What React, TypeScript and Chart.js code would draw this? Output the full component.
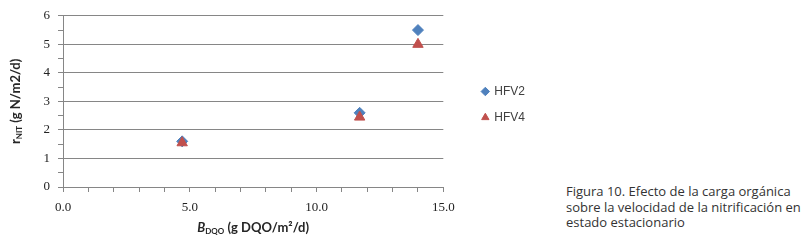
import React, { useEffect, useRef } from 'react';
import { Chart, registerables } from 'chart.js';

Chart.register(...registerables);

// ---- data ----
const seriesNames = ['HFV2', 'HFV4'];
const hfv2X = [4.7, 11.7, 14.0];
const hfv2Y = [1.6, 2.6, 5.5];
const hfv4X = [4.7, 11.7, 14.0];
const hfv4Y = [1.55, 2.45, 5.0];
const xLabelStep = 5;
const xMin = 0;
const xMax = 15;
const yMin = 0;
const yMax = 6;
const captionLines = [
  'Figura 10. Efecto de la carga orgánica',
  'sobre la velocidad de la nitrificación en',
  'estado estacionario',
];

const GRID = '#868686';
const TITLE_FONT = 'Lato';

type Part = { t: string; font: string; dy?: number };

function drawRich(ctx: CanvasRenderingContext2D, parts: Part[], cx: number, baseline: number) {
  let total = 0;
  for (const p of parts) {
    ctx.font = p.font;
    total += ctx.measureText(p.t).width;
  }
  let x = cx - total / 2;
  ctx.textBaseline = 'alphabetic';
  ctx.textAlign = 'left';
  for (const p of parts) {
    ctx.font = p.font;
    ctx.fillText(p.t, x, baseline + (p.dy || 0));
    x += ctx.measureText(p.t).width;
  }
}

const axisTitles = {
  id: 'axisTitles',
  afterDraw(chart: any) {
    const ctx: CanvasRenderingContext2D = chart.ctx;
    const { left, right, top, bottom } = chart.chartArea;
    ctx.save();
    ctx.fillStyle = '#262626';
    drawRich(
      ctx,
      [
        { t: 'B', font: `italic bold 13px ${TITLE_FONT}` },
        { t: 'DQO', font: `bold 8px ${TITLE_FONT}`, dy: 2 },
        { t: ' (g DQO/m²/d)', font: `bold 13px ${TITLE_FONT}` },
      ],
      (left + right) / 2,
      232
    );
    ctx.translate(20, (top + bottom) / 2);
    ctx.rotate(-Math.PI / 2);
    drawRich(
      ctx,
      [
        { t: 'r', font: `bold 13px ${TITLE_FONT}` },
        { t: 'NIT', font: `bold 8px ${TITLE_FONT}`, dy: 2 },
        { t: ' (g N/m2/d)', font: `bold 13px ${TITLE_FONT}` },
      ],
      0,
      0
    );
    ctx.restore();
  },
};

const legendShift = {
  id: 'legendShift',
  afterLayout(chart: any) {
    const l = chart.legend;
    if (l) {
      l.left += 25;
      l.right += 25;
      l.top -= 22.5;
      l.bottom -= 22.5;
    }
  },
};

export default function App() {
  const ref = useRef<HTMLCanvasElement | null>(null);

  useEffect(() => {
    if (!ref.current) return;
    const chart = new Chart(ref.current, {
      type: 'scatter',
      data: {
        datasets: [
          {
            label: seriesNames[0],
            data: hfv2X.map((x, i) => ({ x, y: hfv2Y[i] })),
            pointStyle: 'rectRot',
            pointRadius: 5.5,
            borderWidth: 1,
            backgroundColor: '#4F81BD',
            borderColor: '#4F81BD',
            order: 1,
          },
          {
            label: seriesNames[1],
            data: hfv4X.map((x, i) => ({ x, y: hfv4Y[i] })),
            pointStyle: 'triangle',
            pointRadius: 6,
            borderWidth: 1,
            backgroundColor: '#C0504D',
            borderColor: '#C0504D',
            order: 0,
          },
        ],
      },
      options: {
        responsive: false,
        animation: false,
        devicePixelRatio: 1,
        layout: { padding: { top: 14, left: 0, right: 30, bottom: 0 } },
        plugins: {
          tooltip: { enabled: false },
          legend: {
            position: 'right',
            labels: {
              usePointStyle: true,
              boxWidth: 6,
              boxHeight: 6,
              padding: 14,
              color: '#404040',
              font: { family: 'Liberation Sans', size: 12 },
              sort: (a: any, b: any) => a.datasetIndex - b.datasetIndex,
            },
          },
        },
        scales: {
          x: {
            type: 'linear',
            min: xMin,
            max: xMax,
            ticks: {
              stepSize: 1,
              autoSkip: false,
              maxRotation: 0,
              padding: 8,
              color: '#222',
              font: { family: 'Liberation Serif', size: 13 },
              callback: (v: any) => (Number(v) % xLabelStep === 0 ? Number(v).toFixed(1) : ''),
            },
            grid: { drawOnChartArea: false, tickLength: 5, color: GRID },
            border: { color: GRID },
            afterFit: (s: any) => {
              s.height = 53;
            },
          },
          y: {
            min: yMin,
            max: yMax,
            ticks: {
              stepSize: 0.5,
              autoSkip: false,
              padding: 8,
              color: '#222',
              font: { family: 'Liberation Serif', size: 13 },
              callback: (v: any) => (Number.isInteger(Number(v)) ? String(v) : ''),
            },
            grid: {
              color: (c: any) => (c.tick && Number.isInteger(c.tick.value) ? GRID : 'rgba(0,0,0,0)'),
              tickColor: GRID,
              tickLength: 5,
            },
            border: { color: GRID },
            afterFit: (s: any) => {
              s.width = 63;
            },
          },
        },
      },
      plugins: [axisTitles, legendShift],
    } as any);
    return () => chart.destroy();
  }, []);

  return (
    <div style={{ position: 'fixed', left: 0, top: 0, width: 807, height: 240, background: '#fff' }}>
      <canvas ref={ref} width={540} height={240} style={{ position: 'absolute', left: 0, top: 0 }} />
      <div
        style={{
          position: 'absolute',
          left: 566,
          top: 184,
          fontFamily: '"Open Sans", sans-serif',
          fontSize: 13,
          lineHeight: '15.5px',
          color: '#333',
          whiteSpace: 'nowrap',
        }}
      >
        {captionLines.map((l, i) => (
          <div key={i}>{l}</div>
        ))}
      </div>
    </div>
  );
}
